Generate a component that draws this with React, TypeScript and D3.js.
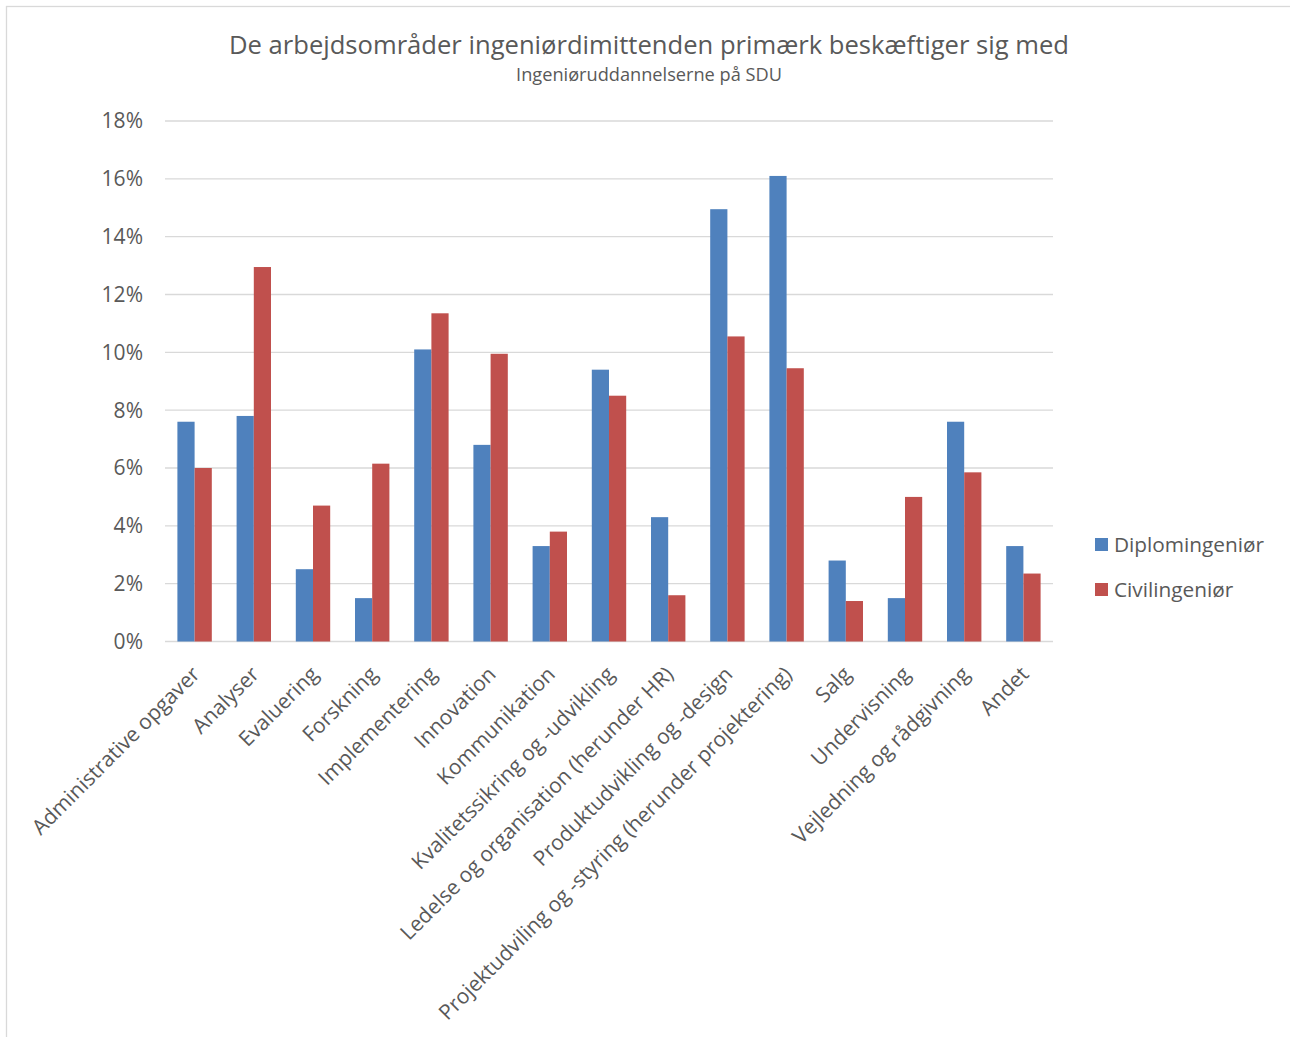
import React from "react";
import * as d3 from "d3";

const categories = [
  "Administrative opgaver",
  "Analyser",
  "Evaluering",
  "Forskning",
  "Implementering",
  "Innovation",
  "Kommunikation",
  "Kvalitetssikring og -udvikling",
  "Ledelse og organisation (herunder HR)",
  "Produktudvikling og -design",
  "Projektudviling og -styring (herunder projektering)",
  "Salg",
  "Undervisning",
  "Vejledning og rådgivning",
  "Andet",
];

const diplom = [7.6, 7.8, 2.5, 1.5, 10.1, 6.8, 3.3, 9.4, 4.3, 14.95, 16.1, 2.8, 1.5, 7.6, 3.3];
const civil = [6.0, 12.95, 4.7, 6.15, 11.35, 9.95, 3.8, 8.5, 1.6, 10.55, 9.45, 1.4, 5.0, 5.85, 2.35];

const seriesNames = ["Diplomingeniør", "Civilingeniør"];
const seriesColors = ["#4f81bd", "#c0504d"];
const yTicks = [0, 2, 4, 6, 8, 10, 12, 14, 16, 18];

const W = 1290;
const H = 1037;
const FONT = "'Open Sans', 'DejaVu Sans', sans-serif";
const TXT = "#595959";

export default function App() {
  const x = d3.scaleBand<string>().domain(categories).range([165, 1053]);
  const y = d3.scaleLinear().domain([0, 18]).range([641.5, 121]);
  const bw = x.bandwidth();
  const barW = 17.2;
  const inner = d3.scaleBand<number>().domain([0, 1]).range([bw / 2 - barW, bw / 2 + barW]);
  const series = [diplom, civil];

  return (
    <svg
      width={W}
      height={H}
      style={{ position: "absolute", left: 0, top: 0, background: "#fff" }}
      fontFamily={FONT}
    >
      <rect x={6.5} y={6.5} width={1300} height={1100} fill="#fff" stroke="#d9d9d9" strokeWidth={1.3} />
      <text x={649} y={54} textAnchor="middle" fontSize={25.6} fill={TXT}>
        De arbejdsområder ingeniørdimittenden primærk beskæftiger sig med
      </text>
      <text x={649} y={81} textAnchor="middle" fontSize={18.2} fill={TXT}>
        Ingeniøruddannelserne på SDU
      </text>
      {yTicks.map((t) => (
        <g key={t}>
          <line x1={165} x2={1053} y1={y(t)} y2={y(t)} stroke="#d9d9d9" strokeWidth={1.3} />
          <text x={143} y={y(t)} dy="0.35em" textAnchor="end" fontSize={21} fill={TXT}>
            {t}%
          </text>
        </g>
      ))}
      {series.map((vals, si) =>
        vals.map((v, i) => (
          <rect
            key={si + "-" + i}
            x={(x(categories[i]) as number) + (inner(si) as number)}
            y={y(v)}
            width={inner.bandwidth()}
            height={y(0) - y(v)}
            fill={seriesColors[si]}
          />
        ))
      )}
      {categories.map((c) => {
        const cx = (x(c) as number) + bw / 2 - 4;
        return (
          <text
            key={c}
            transform={`translate(${cx},${665}) rotate(-45)`}
            textAnchor="end"
            dy="0.71em"
            fontSize={21}
            fill={TXT}
          >
            {c}
          </text>
        );
      })}
      {seriesNames.map((s, i) => (
        <g key={s} transform={`translate(1095,${538 + i * 45})`}>
          <rect x={0} y={0} width={13} height={13} fill={seriesColors[i]} />
          <text x={19} y={6.5} dy="0.35em" fontSize={20.8} fill={TXT}>
            {s}
          </text>
        </g>
      ))}
    </svg>
  );
}
